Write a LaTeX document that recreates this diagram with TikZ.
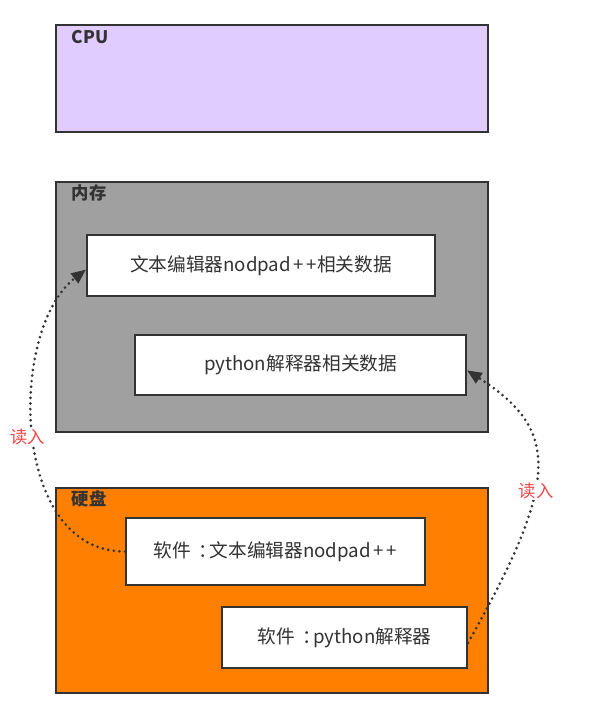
\documentclass[tikz,border=0pt]{standalone}
\usepackage{fontspec}
\setmainfont{Noto Sans CJK SC}
\usetikzlibrary{arrows.meta}
\definecolor{cpuc}{HTML}{E0CCFF}
\definecolor{memc}{HTML}{A0A0A0}
\definecolor{diskc}{HTML}{FF8000}
\definecolor{edge}{HTML}{333333}
\definecolor{redc}{HTML}{F04848}
\newcommand{\pp}{\hspace{0.15em}+\hspace{0.15em}+}
\tikzset{
  outer/.style={draw=edge, line width=1.5pt, anchor=north west, inner sep=0pt},
  inbox/.style={draw=edge, line width=1.5pt, fill=white, anchor=north west, inner sep=0pt, font=\fontsize{14}{16}\selectfont, text=edge},
  title/.style={font=\fontsize{13}{15}\selectfont\bfseries, text=edge, anchor=west},
  readarrow/.style={draw=edge, line width=2.2pt, line cap=round, dash pattern=on 0pt off 4.2pt, -{Triangle[length=11pt,width=9pt]}},
  readlabel/.style={font=\fontsize{13}{15}\selectfont, text=redc, fill=white, inner sep=1pt}
}
\begin{document}
\begin{tikzpicture}[x=0.75pt,y=-0.75pt]
\useasboundingbox (0,0) rectangle (592,720);
\node[outer, fill=cpuc, minimum width=324pt, minimum height=80.25pt] (cpu) at (55,24) {};
\node[title] (cpul) at (67,37) {CPU};
\node[outer, fill=memc, minimum width=324pt, minimum height=187.5pt] (mem) at (55,181) {};
\node[title] (meml) at (67,193) {内存};
\node[outer, fill=diskc, minimum width=324pt, minimum height=153.75pt] (disk) at (55,487) {};
\node[title] (diskl) at (67,499) {硬盘};
\node[inbox, minimum width=261pt, minimum height=45.75pt] (b1) at (86,234) {文本编辑器nodpad\pp 相关数据};
\node[inbox, minimum width=248.25pt, minimum height=45pt] (b2) at (134,334) {python解释器相关数据};
\node[inbox, minimum width=224.25pt, minimum height=50.25pt] (b3) at (125,517) {软件\hspace{0.4em}：\hspace{-0.4em}文本编辑器nodpad\pp};
\node[inbox, minimum width=183.75pt, minimum height=45.75pt] (b4) at (221,606) {软件\hspace{0.4em}：\hspace{-0.4em}python解释器};
\draw[readarrow] (b3.west) .. controls (10,552) and (8,330) .. ([yshift=-3pt]b1.west);
\draw[readarrow] ([yshift=-4pt]b4.east) .. controls (560,480) and (560,430) .. ([yshift=-4pt]b2.east);
\node[readlabel] (r1) at (28,437) {读入};
\node[readlabel] (r2) at (536,491) {读入};
\end{tikzpicture}
\end{document}
